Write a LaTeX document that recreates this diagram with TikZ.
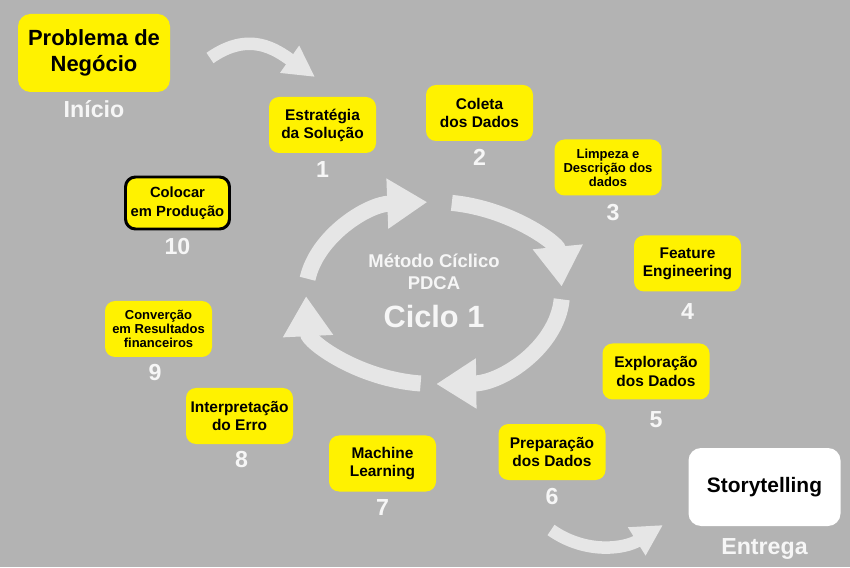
\documentclass[tikz,border=0pt]{standalone}
\usepackage{fontspec}
\setmainfont{Liberation Sans}
\usepackage{xcolor}
\usetikzlibrary{positioning, arrows.meta}
\definecolor{bggray}{RGB}{179,179,179}
\definecolor{boxyellow}{RGB}{255,242,0}
\definecolor{ringgray}{RGB}{230,230,230}
\definecolor{labelwhite}{RGB}{246,246,246}

\begin{document}
\begin{tikzpicture}[
    stepbox/.style={draw=none, fill=boxyellow, rounded corners=0.2cm,
        minimum width=2.14cm, minimum height=1.12cm, align=center, inner sep=1pt,
        font=\fontsize{8.8}{10.3}\selectfont\bfseries},
    smallbox/.style={stepbox, font=\fontsize{7.4}{8}\selectfont\bfseries},
    bigbox/.style={stepbox, minimum width=3.04cm, minimum height=1.56cm,
        rounded corners=0.25cm, font=\fontsize{12.5}{14.4}\selectfont\bfseries},
    stepnum/.style={text=labelwhite, inner sep=0pt, text height=9.4pt, text depth=0pt,
        font=\fontsize{13.2}{13.2}\selectfont\bfseries},
    ringarrow/.style={draw=ringgray, line width=0.32cm, -{Triangle[width=0.95cm,length=0.8cm]}},
    flowarrow/.style={draw=ringgray, line width=0.25cm, -{Triangle[width=0.62cm,length=0.62cm]}}
    ]
    % background
    \fill[bggray] (0,0) rectangle (17,11.34);

    % Add the start and the end
    \node[bigbox] (prob) at (1.88,10.28) {Problema de\\Negócio};
    \node[stepnum,
        below=0.16cm of prob
        ] (inicio) {Início};
    \node[bigbox,
        fill=white,
        font=\fontsize{11.9}{14}\selectfont\bfseries
        ] (story) at (15.29,1.60) {Storytelling};
    \node[stepnum,
        below=0.22cm of story
        ] (entrega) {Entrega};

    % Add the steps
    \node[stepbox] (b1) at (6.45,8.84) {Estratégia\\da Solução};
    \node[stepnum, below=0.14cm of b1] (n1) {1};
    \node[stepbox] (b2) at (9.59,9.08) {Coleta\\dos Dados};
    \node[stepnum, below=0.14cm of b2] (n2) {2};
    \node[smallbox] (b3) at (12.16,7.99) {Limpeza e\\Descrição dos\\dados};
    \node[stepnum, below=0.16cm of b3, xshift=0.1cm] (n3) {3};
    \node[stepbox] (b4) at (13.75,6.07) {Feature\\Engineering};
    \node[stepnum, below=0.22cm of b4] (n4) {4};
    \node[stepbox] (b5) at (13.12,3.91) {Exploração\\dos Dados};
    \node[stepnum, below=0.22cm of b5] (n5) {5};
    \node[stepbox] (b6) at (11.04,2.30) {Preparação\\dos Dados};
    \node[stepnum, below=0.14cm of b6] (n6) {6};
    \node[stepbox] (b7) at (7.65,2.07) {Machine\\Learning};
    \node[stepnum, below=0.14cm of b7] (n7) {7};
    \node[stepbox] (b8) at (4.79,3.02) {Interpretação\\do Erro};
    \node[stepnum, below=0.12cm of b8, xshift=0.04cm] (n8) {8};
    \node[smallbox] (b9) at (3.17,4.76) {Converção\\em Resultados\\financeiros};
    \node[stepnum, below=0.12cm of b9, xshift=-0.07cm] (n9) {9};
    \node[stepbox,
        draw=black,
        line width=1.7pt,
        minimum width=2.08cm,
        minimum height=1.04cm,
        font=\fontsize{8.4}{10.8}\selectfont\bfseries
        ] (b10) at (3.55,7.28) {Colocar\\em Produção};
    \node[stepnum, below=0.14cm of b10] (n10) {10};

    % centre of the cycle
    \node[text=labelwhite, font=\fontsize{10.5}{10.5}\selectfont\bfseries, anchor=base] (metodo) at (8.68,5.98) {Método Cíclico};
    \node[text=labelwhite, font=\fontsize{10.5}{10.5}\selectfont\bfseries, anchor=base] (pdca) at (8.68,5.54) {PDCA};
    \node[text=labelwhite, font=\fontsize{17.5}{17.5}\selectfont\bfseries, anchor=base] (ciclo) at (8.68,4.78) {Ciclo 1};

    % the cycle arrows
    \coordinate (ring) at (8.68,5.48);
    \draw[ringarrow] (ring) ++(82:2.56cm and 1.82cm) arc[start angle=82, end angle=4, x radius=2.56cm, y radius=1.82cm];
    \draw[ringarrow] (ring) ++(-4:2.56cm and 1.82cm) arc[start angle=-4, end angle=-89, x radius=2.56cm, y radius=1.82cm];
    \draw[ringarrow] (ring) ++(-96:2.56cm and 1.82cm) arc[start angle=-96, end angle=-178, x radius=2.56cm, y radius=1.82cm];
    \draw[ringarrow] (ring) ++(171:2.56cm and 1.82cm) arc[start angle=171, end angle=93, x radius=2.56cm, y radius=1.82cm];

    % in and out arrows
    \coordinate (in1) at (4.20,10.18);
    \coordinate (in2) at (6.30,9.80);
    \coordinate (out1) at (11.02,0.74);
    \coordinate (out2) at (13.26,0.84);
    \draw[flowarrow] (in1) to[out=35, in=145, looseness=1.15] (in2);
    \draw[flowarrow] (out1) to[out=-35, in=212] (out2);
\end{tikzpicture}
\end{document}
